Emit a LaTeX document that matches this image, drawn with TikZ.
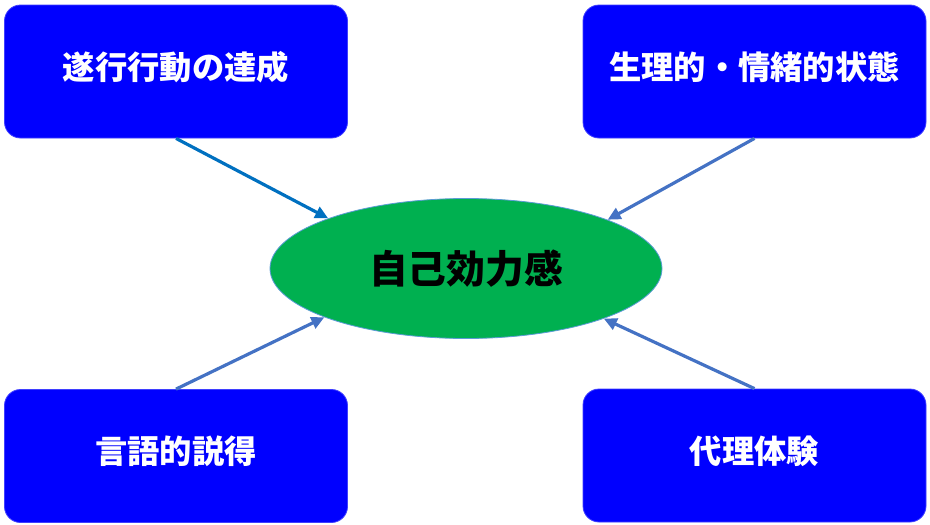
\documentclass[tikz,border=0pt]{standalone}
\usepackage{fontspec}
\newfontfamily\jp{Noto Sans CJK JP}
\usetikzlibrary{arrows.meta,shapes.geometric}
\definecolor{boxblue}{HTML}{0000FF}
\definecolor{boxedge}{HTML}{3F3FFF}
\definecolor{elgreen}{HTML}{00B050}
\definecolor{eledge}{HTML}{5B9BD5}
\definecolor{arrA}{HTML}{0070C0}
\definecolor{arrB}{HTML}{4472C4}
\newcommand{\up}[1]{\raisebox{4.5pt}[\height][\depth]{#1}}
\tikzset{
  factor/.style={rectangle, rounded corners=16pt, fill=boxblue, draw=boxedge, line width=0.8pt,
    minimum width=343pt, minimum height=133pt, inner sep=0pt, text=white,
    font=\jp\bfseries\fontsize{32.3}{38}\selectfont},
  core/.style={ellipse, fill=elgreen, draw=eledge, line width=0.8pt,
    minimum width=392pt, minimum height=140pt, inner sep=0pt, text=black,
    font=\jp\bfseries\fontsize{38.8}{46}\selectfont},
  link/.style={line width=3.2pt, -{Triangle[length=13pt,width=12pt]}}
}
\begin{document}
\begin{tikzpicture}[x=1pt,y=-1pt]
  \useasboundingbox (0,0) rectangle (930,525);
  \node[factor] (tl) at (176,71.5) {\up{遂行行動の達成}};
  \node[factor] (tr) at (754.5,71.5) {\up{生理的・情緒的状態}};
  \node[factor] (bl) at (176,456) {\up{言語的説得}};
  \node[factor] (br) at (754.5,455.5) {\up{代理体験}};
  \node[core] (se) at (466,268.5) {自己効力感};
  \draw[link, arrA] (tl.south) -- (se.160.5);
  \draw[link, arrB] (tr.south) -- (se.19.5);
  \draw[link, arrB] (bl.north) -- (se.199.5);
  \draw[link, arrB] (br.north) -- (se.340.5);
\end{tikzpicture}
\end{document}
